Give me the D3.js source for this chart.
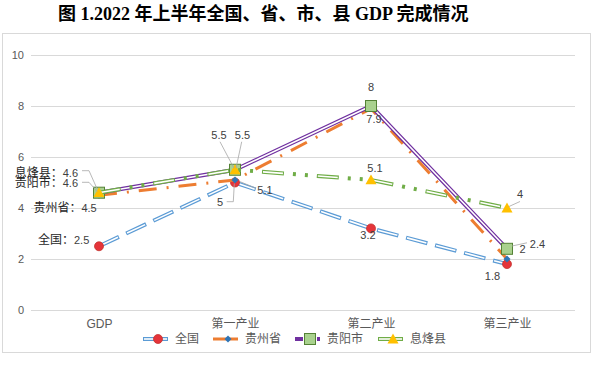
<!DOCTYPE html>
<html>
<head>
<meta charset="utf-8">
<script src="https://cdn.jsdelivr.net/npm/d3@7"></script>
<style>
    body { margin: 0; background: #fff; }
    text { font-family: "Liberation Sans", "Noto Sans CJK SC", sans-serif; }
</style>
</head>
<body>
<svg id="chart" width="598" height="365"></svg>
<script>
///// DATOS /////
const categories = ['GDP', '第一产业', '第二产业', '第三产业'];
const seriesNames = ['全国', '贵州省', '贵阳市', '息烽县'];
const quanguo = [2.5, 5, 3.2, 1.8];
const guizhou = [4.5, 5.1, 7.9, 2];
const guiyang = [4.6, 5.5, 8, 2.4];
const xifeng = [4.6, 5.5, 5.1, 4];
const yTicks = [0, 2, 4, 6, 8, 10];
const title = '图 1.2022 年上半年全国、省、市、县 GDP 完成情况';

//Estilos de cada serie
const styles = [
    { color: '#5B9BD5', double: true, dash: '22,8', inner: '20,10', marker: 'circle', fill: '#E5343A', stroke: '#C0302B', size: 4.5 },
    { color: '#ED7D31', double: false, dash: '18,10,2,10', marker: 'diamond', fill: '#2E75B6', stroke: '#2E75B6', size: 3.5 },
    { color: '#7030A0', double: true, dash: null, inner: null, marker: 'square', fill: '#A9D18E', stroke: '#548235', size: 5.5 },
    { color: '#70AD47', double: true, dash: '22,9,3,9,3,9', inner: '20,35', marker: 'triangle', fill: '#FFC000', stroke: '#FFC000', size: 5.5 }
];

//Posición de las etiquetas (dx, dy desde el punto) y líneas guía
const labelPos = [
    [ {dx: -9.7, dy: -6, a: 'end', pre: true}, {dx: -15, dy: 19.2, a: 'middle', lead: [[-8.3,19.2],[-1.7,19.2],[-0.7,1]]}, {dx: -3, dy: 7, a: 'middle'}, {dx: -14.5, dy: 12, a: 'middle'} ],
    [ {dx: -2.3, dy: 13, a: 'end', pre: true}, {dx: 30, dy: 10, a: 'middle', lead: [[5,1.7],[21,8.3]]}, {dx: 3, dy: 10.8, a: 'middle'}, {dx: 15.5, dy: -10, a: 'middle'} ],
    [ {dx: -21, dy: -9.7, a: 'end', pre: true, lead: [[-17,-10.4],[-10,-10.4],[-1.7,-1]]}, {dx: -16, dy: -34.75, a: 'middle', lead: [[-15,-28],[-1,-1.5]]}, {dx: 0, dy: -19, a: 'middle'}, {dx: 30.5, dy: -4.8, a: 'middle', lead: [[5,-2.8],[20,-6]]} ],
    [ {dx: -21, dy: -20, a: 'end', pre: true, lead: [[-17,-22],[-10,-22],[-1.7,-3.4]]}, {dx: 7.5, dy: -34.75, a: 'middle', lead: [[6.7,-28],[1,-1.5]]}, {dx: 4, dy: -12, a: 'middle'}, {dx: 13, dy: -14, a: 'middle', lead: [[2,-1.5],[13,-6.5]]} ]
];

const allSeries = [quanguo, guizhou, guiyang, xifeng];

let svg = d3.select('#chart');

//Título
svg.append('text')
    .attr('x', 58).attr('y', 14).attr('dy', '0.35em')
    .style('font-family', '"Liberation Serif", "Noto Sans CJK SC", serif')
    .style('font-weight', 'bold')
    .style('font-size', '18px')
    .attr('fill', '#000')
    .text(title);

//Marco
svg.append('rect')
    .attr('x', 2.5).attr('y', 33.5)
    .attr('width', 588).attr('height', 319)
    .attr('fill', 'none').attr('stroke', '#D9D9D9');

//Escalas
let x = d3.scalePoint().domain(categories).range([31, 575]).padding(0.5);
let y = d3.scaleLinear().domain([0, 10]).range([310, 55]);

//Eje Y con líneas de cuadrícula
let yAxis = svg.append('g')
    .attr('transform', 'translate(31,0)')
    .call(d3.axisLeft(y).tickValues(yTicks).tickSize(0).tickPadding(7));
yAxis.select('.domain').remove();
yAxis.selectAll('.tick text').attr('fill', '#595959').style('font-size', '11px');
yAxis.selectAll('.tick').append('line')
    .attr('x1', 0).attr('x2', 544)
    .attr('stroke', '#D9D9D9').attr('stroke-width', 1);

//Eje X
let xAxis = svg.append('g')
    .attr('transform', 'translate(0,310)')
    .call(d3.axisBottom(x).tickSize(0).tickPadding(9));
xAxis.select('.domain').remove();
xAxis.selectAll('.tick text').attr('fill', '#595959').style('font-size', '12px');

let line = d3.line()
    .x((d, i) => x(categories[i]))
    .y(d => y(d));

function drawMarker(g, st, cx, cy) {
    let s = st.size;
    if (st.marker === 'circle') {
        g.append('circle').attr('cx', cx).attr('cy', cy).attr('r', s)
            .attr('fill', st.fill).attr('stroke', st.stroke).attr('stroke-width', 0.75);
    } else if (st.marker === 'diamond') {
        g.append('path').attr('d', `M${cx},${cy - s}L${cx + s},${cy}L${cx},${cy + s}L${cx - s},${cy}Z`)
            .attr('fill', st.fill);
    } else if (st.marker === 'square') {
        g.append('rect').attr('x', cx - s).attr('y', cy - s).attr('width', 2 * s).attr('height', 2 * s)
            .attr('fill', st.fill).attr('stroke', st.stroke).attr('stroke-width', 1);
    } else {
        g.append('path').attr('d', `M${cx},${cy - s}L${cx + s},${cy + s * 0.8}L${cx - s},${cy + s * 0.8}Z`)
            .attr('fill', st.fill);
    }
}

function drawStroke(g, st, d) {
    if (st.double) {
        g.append('path').attr('d', d).attr('fill', 'none')
            .attr('stroke', st.color).attr('stroke-width', 4)
            .attr('stroke-dasharray', st.dash);
        g.append('path').attr('d', d).attr('fill', 'none')
            .attr('stroke', '#fff').attr('stroke-width', 1.6)
            .attr('stroke-dasharray', st.inner)
            .attr('stroke-dashoffset', st.inner ? -1 : 0);
    } else {
        g.append('path').attr('d', d).attr('fill', 'none')
            .attr('stroke', st.color).attr('stroke-width', 3)
            .attr('stroke-dasharray', st.dash);
    }
}

//Series
allSeries.forEach(function(data, si) {
    let st = styles[si];
    let g = svg.append('g').attr('class', 'serie');
    drawStroke(g, st, line(data));
    data.forEach(function(v, i) {
        drawMarker(g, st, x(categories[i]), y(v));
    });
});

//Etiquetas de datos
let labels = svg.append('g');
allSeries.forEach(function(data, si) {
    data.forEach(function(v, i) {
        let p = labelPos[si][i];
        let px = x(categories[i]), py = y(v);
        if (p.lead) {
            labels.append('path')
                .attr('d', d3.line()(p.lead.map(q => [px + q[0], py + q[1]])))
                .attr('fill', 'none').attr('stroke', '#A6A6A6').attr('stroke-width', 0.8);
        }
        let t = labels.append('text')
            .attr('x', px + p.dx).attr('y', py + p.dy).attr('dy', '0.35em')
            .attr('text-anchor', p.a)
            .attr('fill', '#404040')
            .style('font-size', '11px');
        if (p.pre) {
            t.append('tspan').style('font-size', '12px').attr('fill', '#262626').text(seriesNames[si] + '：');
        }
        t.append('tspan').text(v);
    });
});

//Leyenda
const legendX = [143, 213, 295, 378];
let legend = svg.append('g');
seriesNames.forEach(function(name, si) {
    let st = styles[si];
    let lx = legendX[si], ly = 339;
    let g = legend.append('g');
    if (st.double) {
        g.append('line').attr('x1', lx).attr('x2', lx + 25).attr('y1', ly).attr('y2', ly)
            .attr('stroke', st.color).attr('stroke-width', 4);
        if (si !== 2) {
            g.append('line').attr('x1', lx + 1).attr('x2', lx + 24).attr('y1', ly).attr('y2', ly)
                .attr('stroke', '#fff').attr('stroke-width', 1.6);
        } else {
            g.select('line').attr('stroke-dasharray', '8,3');
        }
    } else {
        g.append('line').attr('x1', lx).attr('x2', lx + 25).attr('y1', ly).attr('y2', ly)
            .attr('stroke', st.color).attr('stroke-width', 3);
    }
    drawMarker(g, st, lx + 15, ly);
    g.append('text')
        .attr('x', lx + 32).attr('y', ly).attr('dy', '0.35em')
        .attr('fill', '#595959').style('font-size', '12px')
        .text(name);
});
</script>
</body>
</html>
